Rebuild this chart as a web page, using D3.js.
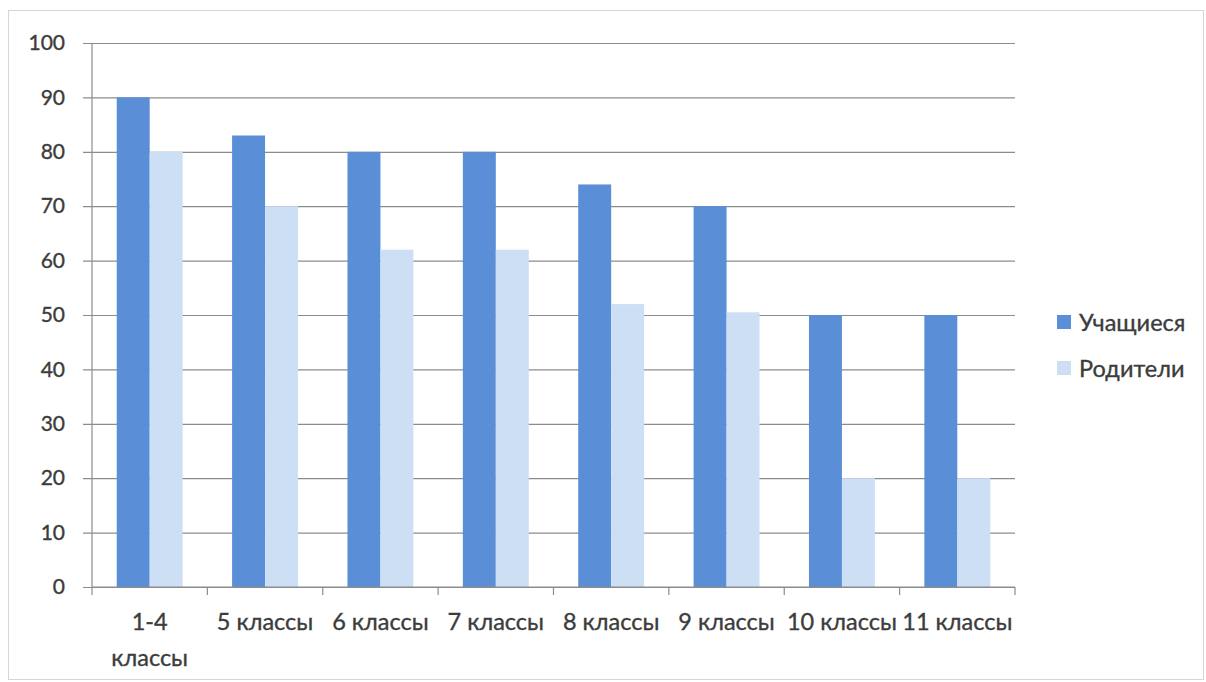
<!DOCTYPE html>
<html>
<head>
<meta charset="utf-8">
<script src="https://cdn.jsdelivr.net/npm/d3@7"></script>
<style>
  body { margin: 0; background: #fff; }
  svg text { font-family: Lato, "Open Sans", sans-serif; fill: #3c3c3c; stroke: #3c3c3c; stroke-width: 0.35px; }
</style>
</head>
<body>
<svg id="chart" width="1206" height="682"></svg>
<script>
// classes on the x axis
const categories = ['1-4 классы', '5 классы', '6 классы', '7 классы', '8 классы', '9 классы', '10 классы', '11 классы'];
const seriesNames = ['Учащиеся', 'Родители'];
const students = [90, 83, 80, 80, 74, 70, 50, 50];
const parents = [80, 70, 62, 62, 52, 50.5, 20, 20];
const yTicks = [0, 10, 20, 30, 40, 50, 60, 70, 80, 90, 100];
const colors = ['#5a8fd8', '#cddff5'];

const svg = d3.select('#chart');
const margin = { left: 92, right: 191, top: 43, bottom: 95 };
const width = 1206 - margin.left - margin.right;
const height = 682 - margin.top - margin.bottom;

// outer frame
svg.append('rect')
  .attr('x', 8.5).attr('y', 10.5)
  .attr('width', 1195).attr('height', 669)
  .attr('fill', 'none').attr('stroke', '#d6d6d6');

const g = svg.append('g').attr('transform', `translate(${margin.left},${margin.top})`);

const x0 = d3.scaleBand().domain(categories).range([0, width]).padding(0);
const x1 = d3.scaleBand().domain(seriesNames).range([0, x0.bandwidth()])
  .paddingInner(0).paddingOuter(0.75);
const y = d3.scaleLinear().domain([0, 100]).range([height, 0]);

// gridlines + y axis
const yAxis = g.append('g')
  .call(d3.axisLeft(y).tickValues(yTicks).tickSize(-width).tickSizeOuter(0).tickPadding(27));
yAxis.select('.domain').remove();
yAxis.selectAll('.tick line')
  .attr('x1', -9)
  .attr('stroke', '#8c8c8c').attr('stroke-width', 1.2);
yAxis.selectAll('.tick text')
  .style('font-size', '21px').attr('fill', '#3c3c3c');

// bars
const rows = categories.map((c, i) => ({ cat: c, vals: [students[i], parents[i]] }));
const groups = g.selectAll('.grp').data(rows).enter().append('g')
  .attr('transform', (d) => `translate(${x0(d.cat)},0)`);
groups.selectAll('rect')
  .data((d) => d.vals.map((v, j) => ({ name: seriesNames[j], v, j })))
  .enter().append('rect')
  .attr('x', (d) => x1(d.name))
  .attr('width', x1.bandwidth())
  .attr('y', (d) => y(d.v))
  .attr('height', (d) => height - y(d.v))
  .attr('fill', (d) => colors[d.j]);

// y axis line
g.append('line')
  .attr('x1', 0).attr('x2', 0).attr('y1', 0).attr('y2', height)
  .attr('stroke', '#8c8c8c').attr('stroke-width', 1.2);

// x axis with ticks at category edges
const xEdges = d3.range(categories.length + 1).map((i) => i * x0.step());
const xAxis = g.append('g').attr('transform', `translate(0,${height})`);
xAxis.append('line')
  .attr('x1', 0).attr('x2', width)
  .attr('stroke', '#8c8c8c').attr('stroke-width', 1.2);
xAxis.selectAll('.edge').data(xEdges).enter().append('line')
  .attr('x1', (d) => d).attr('x2', (d) => d)
  .attr('y1', 0).attr('y2', 8)
  .attr('stroke', '#8c8c8c').attr('stroke-width', 1.2);

// category labels, first one wraps to two lines
const labels = xAxis.selectAll('.lbl').data(categories).enter().append('text')
  .attr('x', (d) => x0(d) + x0.bandwidth() / 2)
  .attr('y', 43)
  .attr('text-anchor', 'middle')
  .style('font-size', '23.5px');
labels.each(function (d, i) {
  const t = d3.select(this);
  if (i === 0) {
    const parts = d.split(' ');
    t.append('tspan').attr('x', x0(d) + x0.bandwidth() / 2).text(parts[0]);
    t.append('tspan').attr('x', x0(d) + x0.bandwidth() / 2).attr('dy', 36).text(parts[1]);
  } else {
    t.text(d);
  }
});

// legend
const legend = svg.append('g').attr('transform', 'translate(1057,315)');
seriesNames.forEach((name, i) => {
  const row = legend.append('g').attr('transform', `translate(0,${i * 46})`);
  row.append('rect').attr('width', 14).attr('height', 14).attr('fill', colors[i]);
  row.append('text').attr('x', 22).attr('y', 16)
    .style('font-size', '23.5px').text(name);
});
</script>
</body>
</html>
